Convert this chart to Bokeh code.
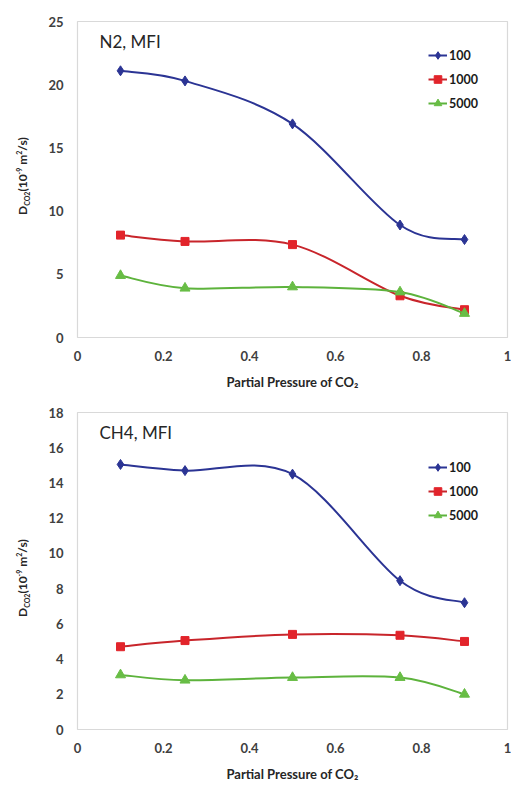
from bokeh.plotting import figure
from bokeh.layouts import column, row
from bokeh.models import Label, Legend, LegendItem, ColumnDataSource, FixedTicker, Div
from bokeh.embed import file_html
from bokeh.resources import INLINE

# ---------------- data ----------------
pressure = [0.1, 0.25, 0.5, 0.75, 0.9]
series_names = ["100", "1000", "5000"]

n2_100 = [21.1, 20.3, 16.9, 8.9, 7.75]
n2_1000 = [8.1, 7.6, 7.35, 3.3, 2.2]
n2_5000 = [4.9, 3.9, 4.0, 3.6, 1.9]

ch4_100 = [15.05, 14.7, 14.5, 8.45, 7.2]
ch4_1000 = [4.7, 5.05, 5.4, 5.35, 5.0]
ch4_5000 = [3.1, 2.8, 2.95, 2.95, 2.0]

x_ticks = [0, 0.2, 0.4, 0.6, 0.8, 1]
n2_y_ticks = [0, 5, 10, 15, 20, 25]
ch4_y_ticks = [0, 2, 4, 6, 8, 10, 12, 14, 16, 18]

COLORS = ["#2B3494", "#E2242B", "#68BD45"]
LINE_COLORS = ["#2B3494", "#C8252B", "#5DB33C"]
MARKERS = ["diamond", "square", "triangle"]
MSIZES = [10, 8, 10]
FONT = "Lato"
DIV_W = 30


def bezier_source(xs, ys, t=1.0 / 6.0):
    n = len(xs)
    d = dict(x0=[], y0=[], x1=[], y1=[], cx0=[], cy0=[], cx1=[], cy1=[])
    for i in range(n - 1):
        a = i - 1 if i > 0 else i
        b = i + 2 if i + 2 < n else i + 1
        d["x0"].append(xs[i]); d["y0"].append(ys[i])
        d["x1"].append(xs[i + 1]); d["y1"].append(ys[i + 1])
        d["cx0"].append(xs[i] + (xs[i + 1] - xs[a]) * t)
        d["cy0"].append(ys[i] + (ys[i + 1] - ys[a]) * t)
        d["cx1"].append(xs[i + 1] - (xs[b] - xs[i]) * t)
        d["cy1"].append(ys[i + 1] - (ys[b] - ys[i]) * t)
    return ColumnDataSource(d)


def make_chart(title, series, y_max, y_ticks, height, top_border, frame_h,
               legend_y, label_bottom):
    p = figure(width=511 - DIV_W, height=height, x_range=(0, 1), y_range=(0, y_max),
               output_backend="svg", toolbar_location=None,
               min_border_left=77 - DIV_W, min_border_right=4,
               min_border_top=top_border,
               min_border_bottom=height - top_border - frame_h)
    p.xgrid.visible = False
    p.ygrid.visible = False
    p.outline_line_color = "#D9D9D9"
    p.outline_line_width = 1.2
    p.background_fill_color = "white"
    p.border_fill_color = "white"

    for ax in (p.xaxis[0], p.yaxis[0]):
        ax.axis_line_color = None
        ax.major_tick_line_color = None
        ax.minor_tick_line_color = None
        ax.major_tick_out = 0
        ax.major_tick_in = 0
        ax.minor_tick_out = 0
        ax.minor_tick_in = 0
        ax.major_label_text_font = FONT
        ax.major_label_text_font_style = "bold"
        ax.major_label_text_font_size = "13px"
        ax.major_label_text_color = "#404040"
    p.xaxis.ticker = FixedTicker(ticks=x_ticks)
    p.xaxis.major_label_overrides = {0: "0", 1: "1"}
    p.yaxis.ticker = FixedTicker(ticks=y_ticks)
    p.xaxis.major_label_standoff = 13
    p.yaxis.major_label_standoff = 14
    p.xaxis.axis_label = "Partial Pressure of CO\u2082"
    p.xaxis.axis_label_text_font = FONT
    p.xaxis.axis_label_text_font_style = "bold"
    p.xaxis.axis_label_text_font_size = "13px"
    p.xaxis.axis_label_text_color = "#262626"
    p.xaxis.axis_label_standoff = 10

    items = []
    for k, ys in enumerate(series):
        src = bezier_source(pressure, ys)
        br = p.bezier(x0="x0", y0="y0", x1="x1", y1="y1", cx0="cx0", cy0="cy0",
                      cx1="cx1", cy1="cy1", source=src,
                      line_color=LINE_COLORS[k], line_width=2)
        sr = p.scatter(pressure, ys, marker=MARKERS[k], size=MSIZES[k],
                       fill_color=COLORS[k], line_color=COLORS[k])
        items.append(LegendItem(label=series_names[k], renderers=[br, sr]))

    legend = Legend(items=items, location=(351, legend_y), padding=0, margin=0,
                    spacing=4, glyph_width=19, glyph_height=20, label_height=20,
                    label_standoff=2, border_line_color=None,
                    background_fill_alpha=0,
                    label_text_font=FONT, label_text_font_style="bold",
                    label_text_font_size="12.5px", label_text_color="#1a1a1a")
    p.add_layout(legend)

    p.add_layout(Label(x=22, y=frame_h - 20, x_units="screen", y_units="screen",
                       text=title, text_font=FONT, text_font_size="17px",
                       text_color="#262626", text_baseline="middle"))

    ylab = Div(width=DIV_W, height=height, margin=0, text=(
        '<div style="position:absolute; left:0; top:0; white-space:nowrap; '
        'line-height:30px; transform-origin:0 0; '
        f'transform:translate(4px, {label_bottom}px) rotate(-90deg); '
        'font-family:Lato; font-weight:bold; font-size:12px; color:#262626;">'
        'D<sub style="font-size:7px">CO2</sub>(10<sup style="font-size:7px">-9</sup>'
        ' m<sup style="font-size:7px">2</sup>/s)</div>'))
    return row(ylab, p, spacing=0)


p1 = make_chart("N2, MFI", [n2_100, n2_1000, n2_5000], 25, n2_y_ticks,
                393, 21, 316, 224, 215)
p2 = make_chart("CH4, MFI", [ch4_100, ch4_1000, ch4_5000], 18, ch4_y_ticks,
                392, 19, 317, 204, 224)

layout = column(p1, p2, spacing=0)
open("out.html", "w").write(file_html(layout, INLINE))
